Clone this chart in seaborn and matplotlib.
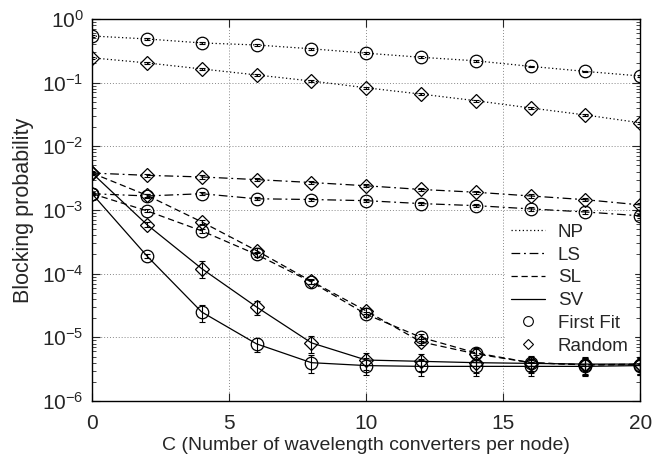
import numpy as np
import pandas as pd
import seaborn as sns
import matplotlib.pyplot as plt
from matplotlib.lines import Line2D
from matplotlib.ticker import FixedLocator, NullFormatter

C = [0, 2, 4, 6, 8, 10, 12, 14, 16, 18, 20]

np_ff = [0.54, 0.485, 0.42, 0.39, 0.34, 0.29, 0.25, 0.22, 0.18, 0.15, 0.127]
np_rnd = [0.245, 0.204, 0.164, 0.132, 0.106, 0.083, 0.066, 0.052, 0.040, 0.031, 0.0234]
ls_ff = [0.0018, 0.00166, 0.0018, 0.0015, 0.00146, 0.0014, 0.00126, 0.00117, 0.00104, 0.00093, 0.00081]
ls_rnd = [0.0038, 0.0035, 0.0033, 0.0030, 0.0027, 0.0024, 0.0021, 0.0019, 0.00166, 0.00145, 0.0012]
sl_ff = [0.0018, 0.00097, 0.00047, 0.0002, 7.4e-5, 2.3e-5, 1.0e-5, 5.7e-6, 4.0e-6, 3.7e-6, 3.7e-6]
sl_rnd = [0.0038, 0.0017, 0.00065, 0.00023, 7.6e-5, 2.6e-5, 8.5e-6, 5.5e-6, 4.0e-6, 3.7e-6, 3.8e-6]
sv_ff = [0.0018, 1.9e-4, 2.5e-5, 7.9e-6, 4.0e-6, 3.6e-6, 3.5e-6, 3.5e-6, 3.5e-6, 3.5e-6, 3.6e-6]
sv_rnd = [0.0038, 5.9e-4, 1.2e-4, 3.0e-5, 8.2e-6, 4.4e-6, 4.2e-6, 4.0e-6, 3.9e-6, 3.8e-6, 3.8e-6]

# relative half-width of the confidence intervals
err_np = [0.03] * 11
err_ls = [0.06] * 11
err_sl = [0.04, 0.05, 0.06, 0.08, 0.08, 0.1, 0.12, 0.2, 0.25, 0.3, 0.3]
err_sv = [0.04, 0.08, 0.3, 0.25, 0.3, 0.3, 0.3, 0.3, 0.3, 0.3, 0.3]

x_ticks = [0, 5, 10, 15, 20]
y_ticks = [1e-6, 1e-5, 1e-4, 1e-3, 1e-2, 1e-1, 1]

schemes = ["NP", "LS", "SL", "SV"]
styles = {"NP": (0, (1, 2)), "LS": (0, (7, 3, 1.5, 3)), "SL": (0, (5, 3)), "SV": "-"}
series = {
    ("NP", "First Fit"): (np_ff, err_np), ("NP", "Random"): (np_rnd, err_np),
    ("LS", "First Fit"): (ls_ff, err_ls), ("LS", "Random"): (ls_rnd, err_ls),
    ("SL", "First Fit"): (sl_ff, err_sl), ("SL", "Random"): (sl_rnd, err_sl),
    ("SV", "First Fit"): (sv_ff, err_sv), ("SV", "Random"): (sv_rnd, err_sv),
}
markers = {"First Fit": "o", "Random": "D"}

sns.set_theme(style="ticks")
plt.rcParams["font.family"] = ["Liberation Sans", "DejaVu Sans"]

fig = plt.figure(figsize=(6.67, 4.62), dpi=100)
ax = fig.add_axes([0.138, 0.132, 0.822, 0.827])
ax.set_axisbelow(True)

for (scheme, alg), (vals, rel) in series.items():
    df = pd.DataFrame({"C": C, "p": vals})
    sns.lineplot(data=df, x="C", y="p", ax=ax, color="black", lw=0.9,
                 linestyle=styles[scheme], marker=markers[alg],
                 markersize=9 if alg == "First Fit" else 7,
                 markerfacecolor="none", markeredgecolor="black",
                 markeredgewidth=0.9, zorder=3)
    v = np.array(vals)
    ax.errorbar(C, v, yerr=v * np.array(rel), fmt="none", ecolor="black",
                elinewidth=0.8, capsize=2.5, capthick=0.8, zorder=3)

ax.set_yscale("log")
ax.set_xlim(0, 20)
ax.set_ylim(1e-6, 1)
ax.set_xticks(x_ticks)
ax.set_yticks(y_ticks)
minors = [m * 10.0 ** e for e in range(-6, 0) for m in range(2, 10)]
ax.yaxis.set_minor_locator(FixedLocator(minors))
ax.yaxis.set_minor_formatter(NullFormatter())
ax.tick_params(which="both", direction="in", top=True, right=True, labelsize=15)
ax.tick_params(which="major", length=6, width=0.8)
ax.tick_params(which="minor", length=3, width=0.6)
ax.tick_params(axis="x", pad=9)
ax.tick_params(axis="y", pad=6)
ax.grid(True, which="major", linestyle=(0, (1, 2)), color="#888888", lw=0.7)
for s in ax.spines.values():
    s.set_linewidth(1.0)
    s.set_color("black")

ax.set_xlabel("C (Number of wavelength converters per node)", fontsize=14, labelpad=3)
ax.set_ylabel("Blocking probability", fontsize=15.5, labelpad=6)

handles = [Line2D([], [], color="black", lw=0.9, linestyle=styles[s]) for s in schemes]
handles += [Line2D([], [], color="black", lw=0, marker="o", markersize=7,
                   markerfacecolor="none", markeredgewidth=0.8),
            Line2D([], [], color="black", lw=0, marker="D", markersize=5,
                   markerfacecolor="none", markeredgewidth=0.8)]
labels = schemes + ["First Fit", "Random"]
leg = ax.legend(handles, labels, loc="upper right", bbox_to_anchor=(1.006, 0.503),
                fontsize=13.5, frameon=True, fancybox=False, framealpha=1,
                edgecolor="white", handlelength=1.8, labelspacing=0.3,
                borderpad=0.3, handletextpad=0.7)
leg.set_zorder(2.5)

fig.savefig("out.png", dpi=100)
